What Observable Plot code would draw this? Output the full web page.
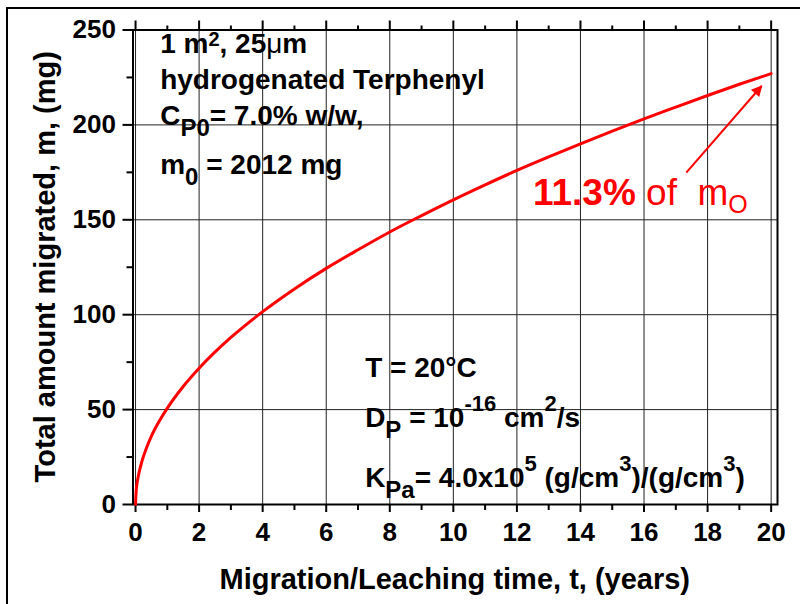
<!DOCTYPE html>
<html><head><meta charset="utf-8">
<script src="https://cdn.jsdelivr.net/npm/d3@7"></script>
<script src="https://cdn.jsdelivr.net/npm/@observablehq/plot@0.6"></script>
<style>
body{margin:0;background:#fff;}
#wrap{position:relative;width:800px;height:604px;overflow:hidden;background:#fff;}
#border{position:absolute;left:6px;top:7px;width:900px;height:700px;border-left:2px solid #000;border-top:2px solid #000;pointer-events:none;}
svg text{white-space:pre;}
</style></head><body>
<div id="wrap"><div id="chart"></div><div id="border"></div></div>
<script>
// Time (years) and total amount migrated (mg)
const years    = [0, 0.02, 0.05, 0.1, 0.2, 0.35, 0.5, 0.75, 1, 1.5, 2, 3, 4, 5, 6, 7, 8, 9, 10, 11, 12, 13, 14, 15, 16, 17, 18, 19, 20];
const migrated = [0, 7.2, 11.4, 16, 22.7, 30, 36, 44, 50.8, 62.2, 71.8, 88, 101.6, 113.6, 124.4, 134.2, 143.6, 152.2, 160.5, 168.4, 176, 183.1, 190, 196.7, 203.2, 209.4, 215.5, 221.4, 227];

const xMajorTicks = [0, 2, 4, 6, 8, 10, 12, 14, 16, 18, 20];
const xMinorTicks = [1, 3, 5, 7, 9, 11, 13, 15, 17, 19];
const yMajorTicks = [0, 50, 100, 150, 200, 250];
const yMinorTicks = [25, 75, 125, 175, 225];

const xTitle = "Migration/Leaching time, t, (years)";
const yTitle = "Total amount migrated, m, (mg)";

// annotation text (anchor in data coordinates)
const noteTopLeft = [
  {t: 0.79, m: 237.4, parts: [["1 m"], ["2", "sup1"], [", 25"], ["μ", "mu"], ["m"]]},
  {t: 0.79, m: 218.4, parts: [["hydrogenated Terphenyl"]]},
  {t: 0.79, m: 199.5, parts: [["C"], ["P0", "sub"], ["= 7.0% w/w,"]]},
  {t: 0.79, m: 173.7, parts: [["m"], ["0", "sub"], [" = 2012 mg"]]}
];
const noteBottom = [
  {t: 7.24, m: 66.8, parts: [["T = 20°C"]]},
  {t: 7.24, m: 40.5, parts: [["D"], ["P", "sub"], [" = 10"], ["-16", "sup"], [" cm"], ["2", "sup"], ["/s"]]},
  {t: 7.24, m: 8.9,  parts: [["K"], ["Pa", "sub"], ["= 4.0x10"], ["5", "sup"], [" (g/cm"], ["3", "sup"], [")/(g/cm"], ["3", "sup"], [")"]]}
];
const redNote = {t: 12.52, m: 157.4, parts: [["11.3%", "rbold"], [" of  m", "rnorm"], ["O", "rsub"]]};
const arrow = [{t1: 17.33, m1: 174.9, t2: 19.70, m2: 220.5}];

const table = years.map((t, i) => ({t, m: migrated[i]}));
const red = "#ff0000";
const font = "'Liberation Sans', Arial, Helvetica, sans-serif";

const plot = Plot.plot({
  width: 800, height: 604,
  marginLeft: 132.5, marginRight: 23, marginTop: 29.5, marginBottom: 100,
  style: {fontFamily: font, fontSize: "26px", fontWeight: "bold", background: "white", overflow: "visible", color: "#000"},
  x: {domain: [-0.08, 20.2]},
  y: {domain: [0, 250]},
  marks: [
    Plot.ruleX(xMajorTicks, {stroke: "#222", strokeWidth: 1}),
    Plot.ruleY(yMajorTicks, {stroke: "#222", strokeWidth: 1}),
    Plot.axisX(xMajorTicks, {anchor: "bottom", tickSize: 8, tickPadding: 10, strokeWidth: 2, label: null, fill: "#000", fontSize: 26, fontWeight: "bold"}),
    Plot.axisX(xMinorTicks, {anchor: "bottom", tickSize: 6, text: null, strokeWidth: 2, label: null}),
    Plot.axisX(xMajorTicks, {anchor: "top", tickSize: 10, text: null, strokeWidth: 2, label: null}),
    Plot.axisX(xMinorTicks, {anchor: "top", tickSize: 5, text: null, strokeWidth: 2, label: null}),
    Plot.axisY(yMajorTicks, {anchor: "left", tickSize: 10, tickPadding: 7, strokeWidth: 2, label: null, fill: "#000", fontSize: 26, fontWeight: "bold"}),
    Plot.axisY(yMinorTicks, {anchor: "left", tickSize: 6, text: null, strokeWidth: 2, label: null}),
    Plot.frame({stroke: "#000", strokeWidth: 2}),
    Plot.line(table, {x: "t", y: "m", stroke: red, strokeWidth: 3, curve: "monotone-x"}),
    Plot.link(arrow, {x1: "t1", y1: "m1", x2: "t2", y2: "m2", stroke: red, strokeWidth: 2})
  ]
});
document.getElementById("chart").appendChild(plot);

const svg = d3.select(plot);
const sx = plot.scale("x"), sy = plot.scale("y");

// filled arrowhead
const defs = svg.append("defs");
defs.append("marker").attr("id", "ah").attr("viewBox", "0 0 10 10")
  .attr("refX", 9).attr("refY", 5).attr("markerWidth", 15).attr("markerHeight", 11)
  .attr("markerUnits", "userSpaceOnUse").attr("orient", "auto")
  .append("path").attr("d", "M0,0L10,5L0,10z").attr("fill", red);
svg.select('g[aria-label="link"] path').attr("marker-end", "url(#ah)");

const styles = {
  "":     {size: 28, dy: 0, weight: "bold", fill: "#000"},
  mu:     {size: 28, dy: 0, weight: "normal", fill: "#000"},
  sub:    {size: 24, dy: 11, weight: "bold", fill: "#000"},
  sup:    {size: 22, dy: -16, weight: "bold", fill: "#000"},
  sup1:   {size: 20, dy: -7, weight: "bold", fill: "#000"},
  rbold:  {size: 37, dy: 0, weight: "bold", fill: red},
  rnorm:  {size: 37, dy: 0, weight: "normal", fill: red},
  rsub:   {size: 25, dy: 8, weight: "normal", fill: red}
};
function rich(note) {
  const g = svg.append("text").attr("x", sx.apply(note.t)).attr("y", sy.apply(note.m))
    .attr("text-anchor", "start").attr("font-family", font).attr("font-size", 28);
  let cur = 0;
  for (const [txt, kind = ""] of note.parts) {
    const s = styles[kind];
    g.append("tspan").attr("dy", s.dy - cur).attr("font-size", s.size)
      .attr("font-weight", s.weight).attr("fill", s.fill).text(txt);
    cur = s.dy;
  }
}
noteTopLeft.forEach(rich);
noteBottom.forEach(rich);
rich(redNote);

// axis titles
const fx = (132.5 + 777) / 2, fy = (29.5 + 504) / 2;
svg.append("text").attr("x", fx).attr("y", 589).attr("text-anchor", "middle")
  .attr("font-family", font).attr("font-size", 29).attr("font-weight", "bold").attr("fill", "#000").text(xTitle);
svg.append("text").attr("transform", `translate(55,${fy}) rotate(-90)`).attr("text-anchor", "middle")
  .attr("font-family", font).attr("font-size", 29).attr("font-weight", "bold").attr("fill", "#000").text(yTitle);
</script>
</body></html>
